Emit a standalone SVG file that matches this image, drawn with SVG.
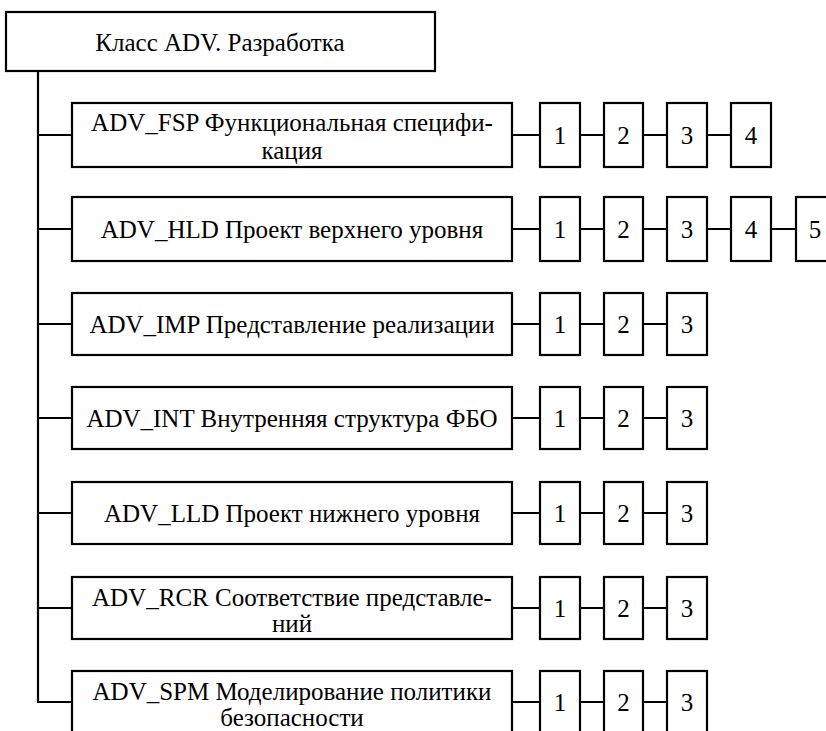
<svg xmlns="http://www.w3.org/2000/svg" width="826" height="731" viewBox="0 0 826 731">
<style>
.b{fill:#fff;stroke:#000;stroke-width:2.2}
.t{font-family:'Liberation Serif','Times New Roman',Tinos,'DejaVu Serif','Noto Serif',serif;font-size:25px;fill:#000;text-anchor:middle}
.c{fill:none;stroke:#000;stroke-width:2.2}
</style>
<rect width="826" height="731" fill="#fff"/>
<g id="connectors">
<path class="c" d="M38 71V702H72"/>
<path class="c" d="M38 135H72M512 135H540M580 135H604M643 135H667M707 135H731"/>
<path class="c" d="M38 229H72M512 229H540M580 229H604M643 229H667M707 229H731M771 229H796"/>
<path class="c" d="M38 324H72M512 324H540M580 324H604M643 324H667"/>
<path class="c" d="M38 418H72M512 418H540M580 418H604M643 418H667"/>
<path class="c" d="M38 513H72M512 513H540M580 513H604M643 513H667"/>
<path class="c" d="M512 608H540M580 608H604M643 608H667"/>
<path class="c" d="M38 608H72"/>
<path class="c" d="M512 702H540M580 702H604M643 702H667"/>
</g>
<g id="root"><rect class="b" x="6" y="12" width="429" height="59"/><text class="t" x="220" y="51">Класс ADV. Разработка</text></g>
<g id="fsp"><rect class="b" x="72" y="103" width="440" height="64"/><text class="t" x="292" y="131">ADV_FSP Функциональная специфи-</text><text class="t" x="292" y="159">кация</text></g>
<g id="fsp-levels">
<rect class="b" x="540" y="103" width="40" height="64"/><text class="t" x="560" y="144">1</text>
<rect class="b" x="604" y="103" width="39" height="64"/><text class="t" x="623.5" y="144">2</text>
<rect class="b" x="667" y="103" width="40" height="64"/><text class="t" x="687" y="144">3</text>
<rect class="b" x="731" y="103" width="40" height="64"/><text class="t" x="751" y="144">4</text>
</g>
<g id="hld"><rect class="b" x="72" y="197" width="440" height="64"/><text class="t" x="292" y="238">ADV_HLD Проект верхнего уровня</text></g>
<g id="hld-levels">
<rect class="b" x="540" y="197" width="40" height="64"/><text class="t" x="560" y="238">1</text>
<rect class="b" x="604" y="197" width="39" height="64"/><text class="t" x="623.5" y="238">2</text>
<rect class="b" x="667" y="197" width="40" height="64"/><text class="t" x="687" y="238">3</text>
<rect class="b" x="731" y="197" width="40" height="64"/><text class="t" x="751" y="238">4</text>
<rect class="b" x="796" y="197" width="40" height="64"/><text class="t" x="815" y="238">5</text>
</g>
<g id="imp"><rect class="b" x="72" y="293" width="440" height="62"/><text class="t" x="292" y="333">ADV_IMP Представление реализации</text></g>
<g id="imp-levels">
<rect class="b" x="540" y="293" width="40" height="62"/><text class="t" x="560" y="333">1</text>
<rect class="b" x="604" y="293" width="39" height="62"/><text class="t" x="623.5" y="333">2</text>
<rect class="b" x="667" y="293" width="40" height="62"/><text class="t" x="687" y="333">3</text>
</g>
<g id="int"><rect class="b" x="72" y="387" width="440" height="62"/><text class="t" x="292" y="427">ADV_INT Внутренняя структура ФБО</text></g>
<g id="int-levels">
<rect class="b" x="540" y="387" width="40" height="62"/><text class="t" x="560" y="427">1</text>
<rect class="b" x="604" y="387" width="39" height="62"/><text class="t" x="623.5" y="427">2</text>
<rect class="b" x="667" y="387" width="40" height="62"/><text class="t" x="687" y="427">3</text>
</g>
<g id="lld"><rect class="b" x="72" y="482" width="440" height="62"/><text class="t" x="292" y="522">ADV_LLD Проект нижнего уровня</text></g>
<g id="lld-levels">
<rect class="b" x="540" y="482" width="40" height="62"/><text class="t" x="560" y="522">1</text>
<rect class="b" x="604" y="482" width="39" height="62"/><text class="t" x="623.5" y="522">2</text>
<rect class="b" x="667" y="482" width="40" height="62"/><text class="t" x="687" y="522">3</text>
</g>
<g id="rcr"><rect class="b" x="72" y="577" width="440" height="62"/><text class="t" x="292" y="606">ADV_RCR Соответствие представле-</text><text class="t" x="292" y="632">ний</text></g>
<g id="rcr-levels">
<rect class="b" x="540" y="577" width="40" height="62"/><text class="t" x="560" y="617">1</text>
<rect class="b" x="604" y="577" width="39" height="62"/><text class="t" x="623.5" y="617">2</text>
<rect class="b" x="667" y="577" width="40" height="62"/><text class="t" x="687" y="617">3</text>
</g>
<g id="spm"><rect class="b" x="72" y="671" width="440" height="70"/><text class="t" x="292" y="700">ADV_SPM Моделирование политики</text><text class="t" x="292" y="726">безопасности</text></g>
<g id="spm-levels">
<rect class="b" x="540" y="671" width="40" height="70"/><text class="t" x="560" y="711">1</text>
<rect class="b" x="604" y="671" width="39" height="70"/><text class="t" x="623.5" y="711">2</text>
<rect class="b" x="667" y="671" width="40" height="70"/><text class="t" x="687" y="711">3</text>
</g>
</svg>
